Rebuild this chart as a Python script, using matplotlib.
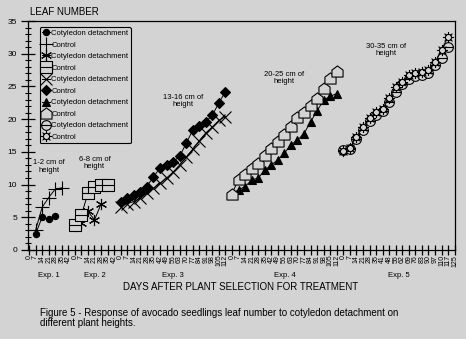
import numpy as np
import matplotlib
matplotlib.use('Agg')
import matplotlib.pyplot as plt
from matplotlib.path import Path

plt.rcParams['font.family'] = ['Liberation Sans', 'DejaVu Sans']

# day labels on the x axis, one list per experiment
exp1_days = [0, 7, 14, 21, 28, 35, 42]
exp2_days = [0, 7, 14, 21, 28, 35, 42]
exp3_days = [0, 7, 14, 21, 28, 35, 42, 49, 56, 63, 70, 77, 84, 91, 98, 105, 112]
exp4_days = [0, 7, 14, 21, 28, 35, 42, 49, 56, 63, 70, 77, 84, 91, 98, 105, 112]
exp5_days = [0, 7, 14, 21, 28, 35, 41, 48, 55, 62, 69, 76, 83, 90, 97, 110, 117, 125]
exp_names = ['Exp. 1', 'Exp. 2', 'Exp. 3', 'Exp. 4', 'Exp. 5']
height_notes = ['1-2 cm of\nheight', '6-8 cm of\nheight', '13-16 cm of\nheight',
                '20-25 cm of\nheight', '30-35 cm of\nheight']

# leaf number readings
exp1_cot_days = [7, 14, 21, 28]
exp1_cot = [2.4, 5.0, 4.7, 5.2]
exp1_ctl_days = [7, 14, 21, 28, 35]
exp1_ctl = [3.0, 6.5, 8.0, 9.3, 9.5]

exp2_cot_days = [0, 7, 14, 21, 28]
exp2_cot = [3.7, 4.2, 5.9, 4.6, 7.0]
exp2_ctl_days = [0, 7, 14, 21, 28, 35]
exp2_ctl = [3.8, 5.3, 8.7, 9.7, 9.9, 10.0]

exp3_cot = [6.6, 7.1, 7.4, 7.9, 8.7, 9.4, 10.2, 11.0, 11.9, 13.0, 14.2, 15.4, 16.7,
            17.9, 18.8, 19.8, 20.4]
exp3_ctl = [7.4, 7.9, 8.4, 8.9, 9.7, 11.2, 12.5, 13.0, 13.5, 14.3, 16.3, 18.3, 18.9,
            19.6, 20.6, 22.5, 24.2]

exp4_cot = [8.6, 9.2, 9.7, 10.7, 11.0, 12.2, 13.0, 13.8, 14.8, 16.1, 16.8, 17.8, 19.6,
            21.3, 22.9, 23.5, 23.9]
exp4_ctl = [8.6, 10.8, 11.6, 12.5, 13.3, 14.5, 15.6, 16.6, 17.8, 19.0, 20.4, 21.1, 22.2,
            23.2, 24.7, 26.3, 27.3]

exp5_cot = [15.3, 15.5, 17.0, 18.4, 19.7, 20.7, 21.2, 22.6, 24.2, 25.3, 26.2, 26.6, 26.8,
            27.1, 28.3, 29.3, 31.0]
exp5_ctl = [15.2, 15.6, 17.3, 18.8, 20.1, 21.1, 21.6, 23.2, 24.9, 25.7, 26.7, 27.1, 27.2,
            27.5, 28.7, 30.6, 32.6]

all_days = [exp1_days, exp2_days, exp3_days, exp4_days, exp5_days]
offsets = np.cumsum([0] + [len(d) for d in all_days])


def slots(exp, days):
    return [offsets[exp] + all_days[exp].index(d) for d in days]


# custom markers
M, L, C = Path.MOVETO, Path.LINETO, Path.CLOSEPOLY
mid_line = Path([(-1, 0), (1, 0)], [M, L])
box_line = Path.make_compound_path(
    Path([(-1, -1), (1, -1), (1, 1), (-1, 1), (-1, -1)], [M, L, L, L, C]), mid_line)
circ_line = Path.make_compound_path(Path.circle((0, 0), 1), mid_line)
house = Path([(-1, -1), (1, -1), (1, 0.25), (0, 1), (-1, 0.25), (-1, -1)],
             [M, L, L, L, L, C])
ray_v, ray_c = [], []
for a in np.linspace(0, 2 * np.pi, 8, endpoint=False):
    ray_v += [(0.55 * np.cos(a), 0.55 * np.sin(a)), (np.cos(a), np.sin(a))]
    ray_c += [M, L]
sun = Path.make_compound_path(Path.circle((0, 0), 0.55), Path(ray_v, ray_c))

bg = '#d3d3d3'
fig = plt.figure(figsize=(4.66, 3.39), dpi=100, facecolor=bg)
ax = fig.add_axes([28 / 466, 1 - 250 / 339, 427 / 466, 229 / 339], facecolor=bg)

series = [
    (slots(0, exp1_cot_days), exp1_cot, 'o', 4.5, 'k', 'Cotyledon detachment'),
    (slots(0, exp1_ctl_days), exp1_ctl, '+', 10, 'k', 'Control'),
    (slots(1, exp2_cot_days), exp2_cot, (6, 2, 0), 8, 'k', 'Cotyledon detachment'),
    (slots(1, exp2_ctl_days), exp2_ctl, box_line, 8, bg, 'Control'),
    (slots(2, exp3_days), exp3_cot, 'x', 8, 'k', 'Cotyledon detachment'),
    (slots(2, exp3_days), exp3_ctl, 'D', 5, 'k', 'Control'),
    (slots(3, exp4_days), exp4_cot, '^', 6, 'k', 'Cotyledon detachment'),
    (slots(3, exp4_days), exp4_ctl, house, 8, bg, 'Control'),
    (slots(4, exp5_days[:17]), exp5_cot, circ_line, 7, bg, 'Cotyledon detachment'),
    (slots(4, exp5_days[:17]), exp5_ctl, sun, 8, bg, 'Control'),
]
for x, y, mk, ms, fc, lab in series:
    ax.plot(x, y, color='k', lw=0.7, marker=mk, ms=ms, mfc=fc, mec='k', mew=0.8,
            label=lab)

n_slots = offsets[-1]
ax.set_xlim(-0.15, 65.05)
ax.set_ylim(0, 35)
ax.set_xticks(range(n_slots))
ax.set_xticklabels([str(d) for days in all_days for d in days], rotation=90,
                   fontsize=5)
ax.set_yticks(range(0, 36, 5))
ax.set_yticks(range(0, 36), minor=True)
ax.tick_params(axis='x', direction='inout', length=7, width=0.9, pad=0)
ax.tick_params(axis='y', which='major', direction='inout', length=9.5, width=0.9,
               pad=3, labelsize=6)
ax.tick_params(axis='y', which='minor', direction='inout', length=5, width=0.8)
for s in ax.spines.values():
    s.set_linewidth(0.9)

# experiment names under the day labels
for i, name in enumerate(exp_names):
    ax.text((offsets[i] + offsets[i + 1] - 1) / 2, -0.11, name, fontsize=5.5,
            ha='center', va='center', transform=ax.get_xaxis_transform())

# plant height notes
note_pos = [(3.0, 12.8), (10.0, 13.3), (23.5, 22.8), (39.0, 26.3), (54.5, 30.6)]
for (nx, ny), txt in zip(note_pos, height_notes):
    ax.text(nx, ny, txt, fontsize=5.5, ha='center', va='center', linespacing=1.1)

leg = ax.legend(loc='upper left', bbox_to_anchor=(0.028, 0.972), borderaxespad=0,
                fontsize=5.5, handlelength=1.0, handletextpad=0.2, labelspacing=0.55,
                borderpad=0.3, fancybox=True, framealpha=1, facecolor=bg,
                edgecolor='k', numpoints=1)
leg.get_frame().set_linewidth(0.8)

fig.text(30 / 466, 1 - 12 / 339, 'LEAF NUMBER', fontsize=7, va='center', ha='left')
fig.text(241 / 466, 1 - 287 / 339, 'DAYS AFTER PLANT SELECTION FOR TREATMENT',
         fontsize=7, ha='center', va='center')
fig.text(40 / 466, 1 - 318 / 339,
         'Figure 5 - Response of avocado seedlings leaf number to cotyledon detachment on\n'
         'different plant heights.', fontsize=7, ha='left', va='center', linespacing=1.1)

fig.savefig('out.png', dpi=100, facecolor=bg)
